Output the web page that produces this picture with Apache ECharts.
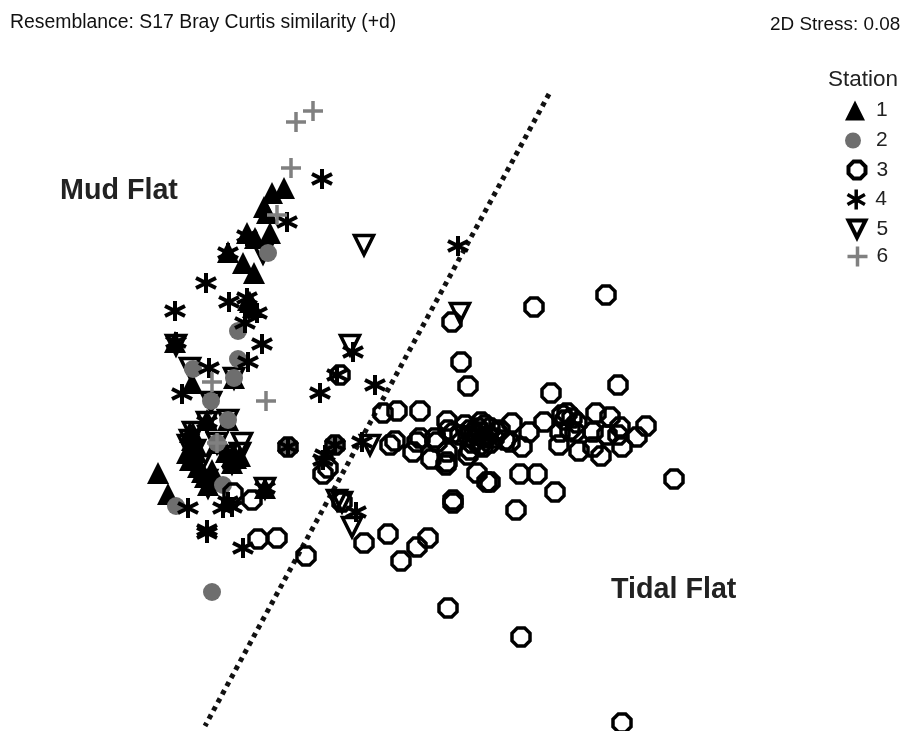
<!DOCTYPE html>
<html><head><meta charset="utf-8">
<style>html,body{margin:0;padding:0;background:#fff}#c{width:902px;height:731px}</style>
<script src="https://cdn.jsdelivr.net/npm/echarts@6/dist/echarts.min.js"></script></head>
<body><div id="c"></div>
<script>
const stationNames = ['1','2','3','4','5','6'];
const station1 = [[272,193],[284,188],[264,207],[267,213],[270,233],[255,238],[243,263],[254,273],[228,252],[247,233],[250,302],[253,307],[248,300],[158,473],[168,494],[192,383],[175,342],[193,433],[195,443],[187,453],[198,467],[205,477],[208,485],[232,463],[265,488],[190,460],[192,440],[202,472],[212,480],[236,458],[196,452],[207,420],[217,443],[234,378],[228,420],[232,456],[226,452],[240,456],[190,432],[212,470]];
const station2 = [[193,369],[238,359],[234,378],[238,331],[228,420],[217,443],[288,447],[335,445],[176,506],[223,485],[212,592],[268,253],[211,401]];
const station3 = [[534,307],[606,295],[452,322],[461,362],[468,386],[551,393],[618,385],[340,375],[383,413],[397,411],[420,411],[447,421],[481,422],[512,423],[529,432],[544,422],[562,415],[567,413],[577,423],[596,413],[610,417],[620,427],[646,426],[637,437],[618,435],[607,435],[593,432],[622,447],[601,456],[593,447],[579,451],[559,445],[575,432],[560,432],[522,447],[510,442],[505,440],[497,432],[490,443],[483,447],[477,435],[470,430],[472,443],[468,455],[470,450],[453,433],[448,430],[447,452],[446,465],[447,462],[431,459],[435,438],[437,442],[420,438],[417,442],[413,452],[395,441],[390,445],[477,473],[487,482],[490,482],[520,474],[537,474],[555,492],[453,500],[453,503],[516,510],[674,479],[388,534],[428,538],[417,547],[401,561],[364,543],[306,556],[258,539],[277,538],[448,608],[521,637],[622,723],[252,500],[233,493],[323,474],[328,468],[342,502],[335,445],[288,447],[485,425],[490,428],[475,440],[480,432],[465,425],[460,435],[500,430],[565,420],[572,418],[570,430],[478,428],[484,438],[474,432],[488,436],[468,436],[480,445],[494,438]];
const station4 = [[322,179],[287,222],[247,236],[228,253],[206,283],[175,311],[229,302],[247,298],[257,313],[245,323],[262,344],[248,362],[209,368],[182,394],[176,342],[207,422],[188,508],[223,508],[232,507],[228,502],[207,533],[207,530],[243,548],[265,488],[288,447],[335,445],[325,455],[323,460],[353,352],[337,375],[320,393],[375,385],[362,442],[356,512],[232,463],[458,246]];
const station5 = [[364,245],[263,253],[460,313],[350,345],[176,345],[190,368],[211,402],[207,422],[242,443],[240,453],[188,445],[232,463],[370,445],[342,502],[352,527],[337,500],[265,488],[193,432],[190,440],[195,450],[200,465],[207,480],[208,487],[234,378],[228,420],[217,443],[226,456]];
const station6 = [[313,111],[296,122],[291,168],[212,382],[266,401],[217,443],[277,215]];
const divider = [[549,94],[205,726]];

const TRI='path://M0 -1L1 1L-1 1Z';
const INV='path://M-1 -1L1 -1L0 1Z';
const OCT='path://M-.41 -1L.41 -1L1 -.41L1 .41L.41 1L-.41 1L-1 .41L-1 -.41Z';
const AST='path://M0 -1L0 1M-.87 -.5L.87 .5M-.87 .5L.87 -.5';
const PLUS='path://M0 -1L0 1M-1 0L1 0';

const series = [
 {d:station1,sym:TRI,size:22,z:3,it:{color:'#000'}},
 {d:station2,sym:'circle',size:18,z:5,it:{color:'#6e6e6e'}},
 {d:station3,sym:OCT,size:18,z:6,it:{color:'none',borderColor:'#000',borderWidth:3.5}},
 {d:station4,sym:AST,size:20,z:7,it:{color:'none',borderColor:'#000',borderWidth:4}},
 {d:station5,sym:INV,size:19,z:4,it:{color:'none',borderColor:'#000',borderWidth:3.5}},
 {d:station6,sym:PLUS,size:20,z:8,it:{color:'none',borderColor:'#808080',borderWidth:3.5}}
].map((s,i)=>({type:'scatter',name:stationNames[i],data:s.d,symbol:s.sym,symbolSize:s.size,itemStyle:Object.assign({opacity:1},s.it),silent:true,z:s.z}));
series.push({type:'line',name:'divider',data:divider,symbol:'none',silent:true,z:1,lineStyle:{color:'#111',width:5,type:[4.6,4.7]}});

const FONT='"Liberation Sans",Arial,sans-serif';
const plain=(text,left,top,size,weight,color)=>({text,left,top,padding:0,textStyle:{fontFamily:FONT,fontSize:size,fontWeight:weight,color}});
const legendRows=[[845,100,20,0],[845,130,16,0],[846,159,17,4],[845,187,20,3.5],[846,218,17,4],[845,244,20,3.5]];
const option={
 animation:false,backgroundColor:'#fff',
 grid:{left:0,right:0,top:0,bottom:0},
 xAxis:{type:'value',min:0,max:902,show:false},
 yAxis:{type:'value',min:0,max:731,inverse:true,show:false},
 title:[
  plain('Resemblance: S17 Bray Curtis similarity (+d)',10,13,19.4,'normal','#111'),
  plain('2D Stress: 0.08',770,15,18.9,'normal','#111'),
  plain('Station',828,68,22.5,'normal','#222'),
  plain('Mud Flat',60,177,28.7,'bold','#222'),
  plain('Tidal Flat',611,576,28.7,'bold','#222')
 ],
 legend:stationNames.map((n,i)=>({orient:'vertical',left:legendRows[i][0],top:legendRows[i][1],padding:0,itemWidth:legendRows[i][2],itemHeight:legendRows[i][2],selectedMode:false,data:[n],
  itemStyle:legendRows[i][3]?{borderWidth:legendRows[i][3]}:{},
  textStyle:{fontFamily:FONT,fontSize:21,color:'#222',padding:[0,0,0,Math.max(0,876-legendRows[i][0]-legendRows[i][2]-5-(legendRows[i][3]?2:0))]}})),
 series
};
echarts.init(document.getElementById('c'),null,{renderer:'canvas'}).setOption(option);
</script></body></html>
